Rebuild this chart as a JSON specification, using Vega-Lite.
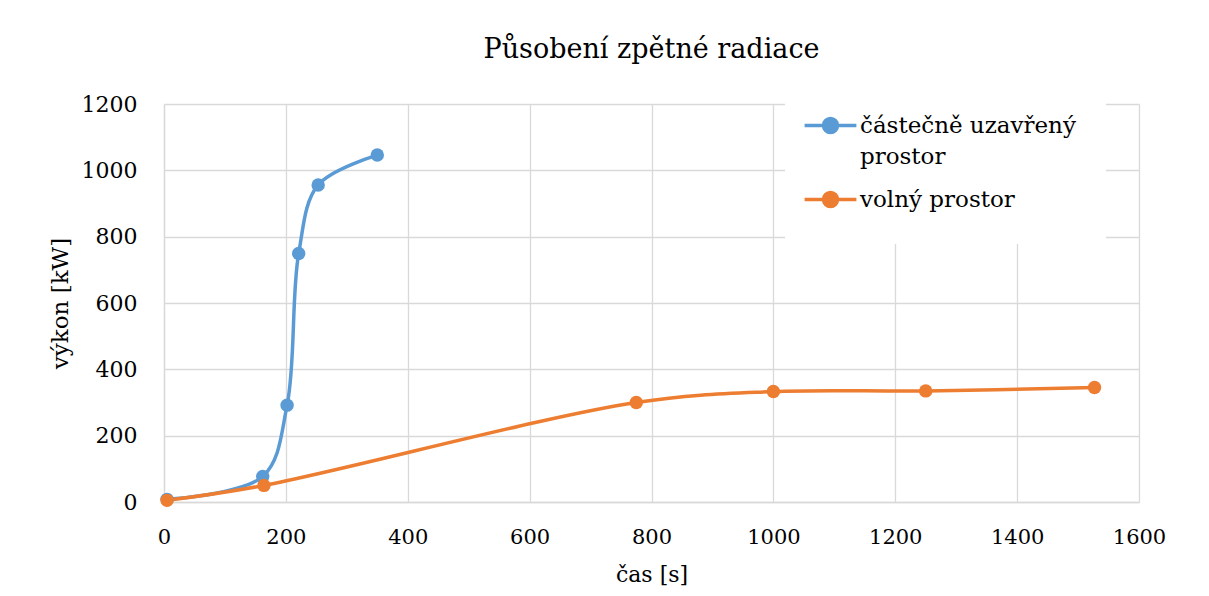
{
  "$schema": "https://vega.github.io/schema/vega-lite/v6.json",
  "width": 975,
  "height": 398,
  "autosize": {"type": "none"},
  "padding": {"left": 164, "top": 104, "right": 70, "bottom": 94},
  "background": "white",
  "title": {
    "text": "Působení zpětné radiace",
    "font": "DejaVu Serif",
    "fontSize": 27,
    "fontWeight": "normal",
    "color": "#000000",
    "anchor": "middle",
    "offset": 20
  },
  "config": {
    "view": {"stroke": null},
    "font": "DejaVu Serif"
  },
  "data": {
    "values": [
      {"cas": 5, "vykon": 8, "serie": "částečně uzavřený prostor"},
      {"cas": 162, "vykon": 77, "serie": "částečně uzavřený prostor"},
      {"cas": 202, "vykon": 292, "serie": "částečně uzavřený prostor"},
      {"cas": 221, "vykon": 749, "serie": "částečně uzavřený prostor"},
      {"cas": 253, "vykon": 956, "serie": "částečně uzavřený prostor"},
      {"cas": 350, "vykon": 1046, "serie": "částečně uzavřený prostor"},
      {"cas": 5, "vykon": 5, "serie": "volný prostor"},
      {"cas": 164, "vykon": 50, "serie": "volný prostor"},
      {"cas": 775, "vykon": 300, "serie": "volný prostor"},
      {"cas": 1000, "vykon": 333, "serie": "volný prostor"},
      {"cas": 1250, "vykon": 335, "serie": "volný prostor"},
      {"cas": 1527, "vykon": 345, "serie": "volný prostor"}
    ]
  },
  "mark": {
    "type": "line",
    "interpolate": "catmull-rom",
    "strokeWidth": 3.5,
    "point": {"filled": true, "size": 180, "opacity": 1}
  },
  "encoding": {
    "x": {
      "field": "cas",
      "type": "quantitative",
      "title": "čas [s]",
      "scale": {"domain": [0, 1600], "nice": false},
      "axis": {
        "values": [0, 200, 400, 600, 800, 1000, 1200, 1400, 1600],
        "format": "d",
        "ticks": false,
        "tickSize": 0,
        "grid": true,
        "gridColor": "#d9d9d9",
        "gridWidth": 1.3,
        "domainColor": "#d9d9d9",
        "domainWidth": 1.3,
        "labelFont": "DejaVu Serif",
        "labelFontSize": 21,
        "labelColor": "#000000",
        "labelPadding": 24,
        "labelFlush": false,
        "titleFont": "DejaVu Serif",
        "titleFontSize": 22,
        "titleFontWeight": "normal",
        "titleColor": "#000000",
        "titleY": 62
      }
    },
    "y": {
      "field": "vykon",
      "type": "quantitative",
      "title": "výkon [kW]",
      "scale": {"domain": [0, 1200], "nice": false},
      "axis": {
        "values": [0, 200, 400, 600, 800, 1000, 1200],
        "format": "d",
        "ticks": false,
        "tickSize": 0,
        "grid": true,
        "gridColor": "#d9d9d9",
        "gridWidth": 1.3,
        "domainColor": "#d9d9d9",
        "domainWidth": 1.3,
        "labelFont": "DejaVu Serif",
        "labelFontSize": 22,
        "labelColor": "#000000",
        "labelPadding": 27,
        "labelFlush": false,
        "titleFont": "DejaVu Serif",
        "titleFontSize": 23,
        "titleFontWeight": "normal",
        "titleColor": "#000000",
        "titleX": -92,
        "titleY": 199
      }
    },
    "color": {
      "field": "serie",
      "type": "nominal",
      "scale": {
        "domain": ["částečně uzavřený prostor", "volný prostor"],
        "range": ["#5b9bd5", "#ed7d31"]
      },
      "legend": {
        "title": null,
        "orient": "none",
        "legendX": 621,
        "legendY": -20,
        "fillColor": "white",
        "padding": 30,
        "symbolType": "M-3.7,0L3.7,0M1,0A1,1 0 1 1 -1,0A1,1 0 1 1 1,0Z",
        "symbolSize": 196,
        "symbolStrokeWidth": 3.5,
        "symbolOffset": 4,
        "labelFont": "DejaVu Serif",
        "labelFontSize": 23,
        "labelColor": "#000000",
        "labelOffset": 18,
        "labelLimit": 400,
        "labelExpr": "datum.label == 'částečně uzavřený prostor' ? ['částečně uzavřený', 'prostor'] : datum.label",
        "rowPadding": 16,
        "encode": {
          "symbols": {"update": {"fill": {"scale": "color", "field": "value"}, "opacity": {"value": 1}}},
          "labels": {"update": {"lineHeight": {"value": 31}}}
        }
      }
    }
  }
}
